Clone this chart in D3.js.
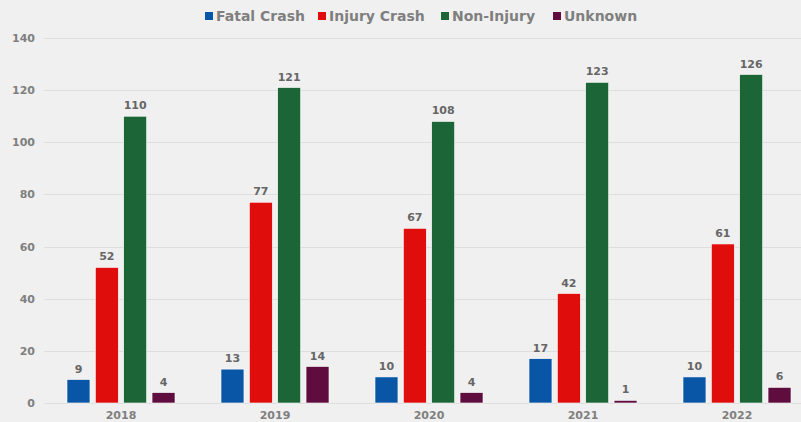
<!DOCTYPE html>
<html>
<head>
<meta charset="utf-8">
<script src="https://cdn.jsdelivr.net/npm/d3@7"></script>
<style>
  body { margin: 0; background: #f0f0f0; }
  svg { display: block; font-family: "DejaVu Sans", Verdana, sans-serif; font-weight: bold; }
</style>
</head>
<body>
<div class="chart-cont"></div>
<script>
var years = ["2018", "2019", "2020", "2021", "2022"];
var seriesNames = ["Fatal Crash", "Injury Crash", "Non-Injury", "Unknown"];
var seriesColors = ["#0a56a6", "#e00d0d", "#1b6536", "#5e0d3e"];
var fatal = [9, 13, 10, 17, 10];
var injury = [52, 77, 67, 42, 61];
var nonInjury = [110, 121, 108, 123, 126];
var unknown = [4, 14, 4, 1, 6];
var yTicks = [0, 20, 40, 60, 80, 100, 120, 140];

var w = 801, h = 422;
var seriesValues = [fatal, injury, nonInjury, unknown];

var svg = d3.select(".chart-cont").append("svg")
    .attr("width", w)
    .attr("height", h);

svg.append("rect")
    .attr("width", w)
    .attr("height", h)
    .attr("fill", "#f0f0f0");

var x = d3.scaleBand().domain(years).range([44, 814]).paddingInner(0).paddingOuter(0);
var y = d3.scaleLinear().domain([0, 140]).range([403, 38]);

// gridlines
svg.append("g").selectAll("line")
    .data(yTicks)
    .enter().append("line")
    .attr("x1", 44).attr("x2", w)
    .attr("y1", function(d) { return Math.round(y(d)) + 0.5; })
    .attr("y2", function(d) { return Math.round(y(d)) + 0.5; })
    .attr("stroke", "#dedede")
    .attr("stroke-width", 1);

// y axis
var yAxis = svg.append("g")
    .attr("transform", "translate(44,0)")
    .call(d3.axisLeft(y).tickValues(yTicks).tickSize(0).tickPadding(9));
yAxis.select(".domain").remove();
yAxis.selectAll("text")
    .style("font-family", "DejaVu Sans, Verdana, sans-serif")
    .style("font-weight", "bold")
    .style("font-size", "11px")
    .attr("fill", "#7f7f7f");

// x axis
var xAxis = svg.append("g")
    .attr("transform", "translate(0,403)")
    .call(d3.axisBottom(x).tickSize(0).tickPadding(8));
xAxis.select(".domain").remove();
xAxis.selectAll("text")
    .style("font-family", "DejaVu Sans, Verdana, sans-serif")
    .style("font-weight", "bold")
    .style("font-size", "11px")
    .attr("fill", "#7f7f7f");

// bars
var inner = d3.scaleBand().domain(d3.range(seriesNames.length))
    .range([23, 131]).paddingInner(0.19);

var data = [];
years.forEach(function(yr, i) {
    seriesValues.forEach(function(vals, s) {
        data.push({year: yr, s: s, value: vals[i]});
    });
});

var groups = svg.append("g").selectAll("g")
    .data(data)
    .enter().append("g")
    .attr("transform", function(d) { return "translate(" + (x(d.year) + inner(d.s)) + ",0)"; });

groups.append("rect")
    .attr("x", 0)
    .attr("y", function(d) { return y(d.value); })
    .attr("width", inner.bandwidth())
    .attr("height", function(d) { return y(0) - y(d.value); })
    .attr("fill", function(d) { return seriesColors[d.s]; })
    .attr("stroke", "#ffffff")
    .attr("stroke-width", 0.6);

groups.append("text")
    .attr("x", inner.bandwidth() / 2)
    .attr("y", function(d) { return y(d.value) - 7; })
    .attr("text-anchor", "middle")
    .style("font-size", "11px")
    .attr("fill", "#666666")
    .text(function(d) { return d.value; });

// legend
var legendX = [205, 318, 441, 553];
var legend = svg.append("g").selectAll("g")
    .data(seriesNames)
    .enter().append("g")
    .attr("transform", function(d, i) { return "translate(" + legendX[i] + ",0)"; });

legend.append("rect")
    .attr("x", 0).attr("y", 12)
    .attr("width", 8).attr("height", 8)
    .attr("fill", function(d, i) { return seriesColors[i]; });

legend.append("text")
    .attr("x", 11).attr("y", 20.5)
    .style("font-size", "14px")
    .attr("fill", "#7f7f7f")
    .text(function(d) { return d; });
</script>
</body>
</html>
